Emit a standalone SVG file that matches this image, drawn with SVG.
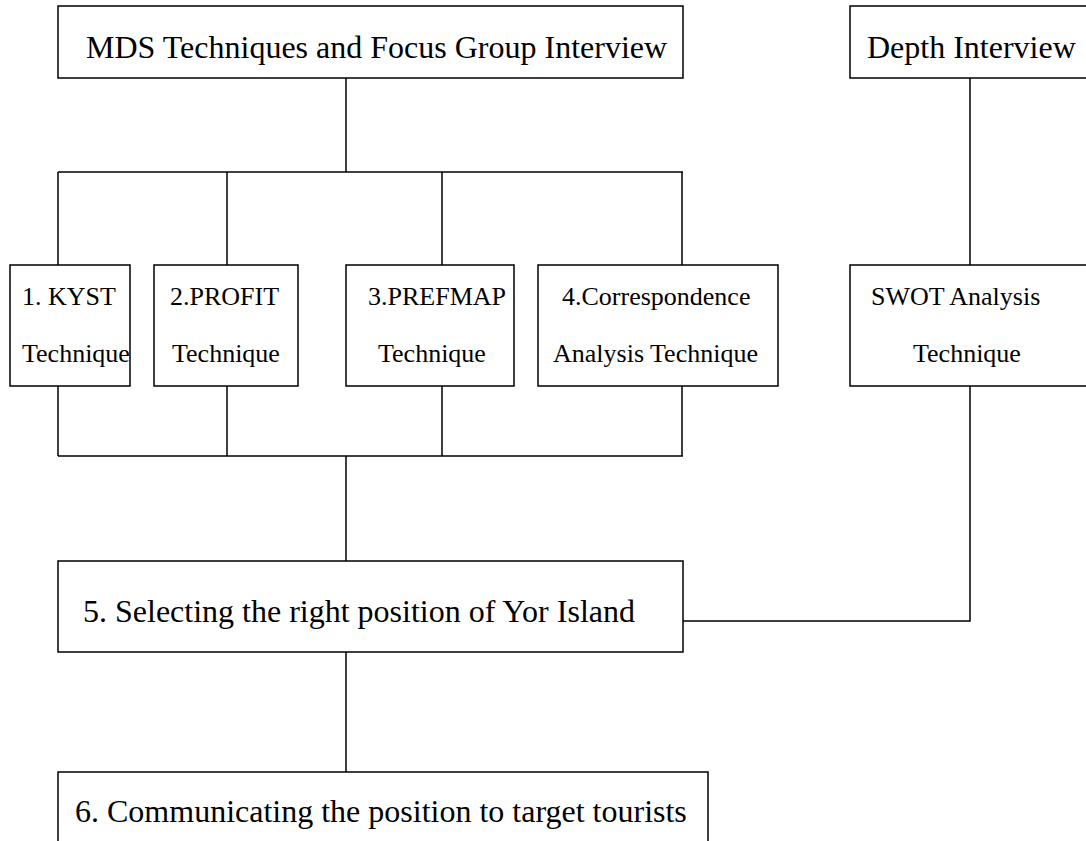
<svg xmlns="http://www.w3.org/2000/svg" width="1086" height="841" viewBox="0 0 1086 841">
  <style>
    .box { fill: #ffffff; stroke: #000000; stroke-width: 1.5; }
    .wire { fill: none; stroke: #000000; stroke-width: 1.5; }
    text { font-family: 'Liberation Serif', serif; fill: #000000; }
    .big { font-size: 32px; }
    .small { font-size: 26px; }
  </style>
  <rect x="0" y="0" width="1086" height="841" fill="#ffffff"/>

  <!-- connectors -->
  <g id="connectors" class="wire">
    <!-- MDS fan-out -->
    <path d="M346 78 V172"/>
    <path d="M58 172 H683"/>
    <path d="M58 172 V265 M227 172 V265 M442 172 V265 M682 172 V265"/>
    <!-- fan-in to step 5 -->
    <path d="M58 386 V456 M227 386 V456 M442 386 V456 M682 386 V456"/>
    <path d="M58 456 H683"/>
    <path d="M346 456 V561"/>
    <!-- depth interview branch -->
    <path d="M970 78 V265"/>
    <path d="M970 386 V621 H683"/>
    <!-- step 5 to step 6 -->
    <path d="M346 652 V772"/>
  </g>

  <g id="node-mds">
    <rect class="box" x="58" y="6" width="625" height="72"/>
    <text class="big" x="86" y="58">MDS Techniques and Focus Group Interview</text>
  </g>

  <g id="node-depth">
    <rect class="box" x="850" y="6" width="240" height="72"/>
    <text class="big" x="867" y="58">Depth Interview</text>
  </g>

  <g id="node-kyst">
    <rect class="box" x="10" y="265" width="120" height="121"/>
    <text class="small" x="22" y="305">1. KYST</text>
    <text class="small" x="22" y="362">Technique</text>
  </g>

  <g id="node-profit">
    <rect class="box" x="154" y="265" width="144" height="121"/>
    <text class="small" x="170" y="305">2.PROFIT</text>
    <text class="small" x="172" y="362">Technique</text>
  </g>

  <g id="node-prefmap">
    <rect class="box" x="346" y="265" width="168" height="121"/>
    <text class="small" x="368" y="305">3.PREFMAP</text>
    <text class="small" x="378" y="362">Technique</text>
  </g>

  <g id="node-correspondence">
    <rect class="box" x="538" y="265" width="240" height="121"/>
    <text class="small" x="562" y="305">4.Correspondence</text>
    <text class="small" x="553" y="362">Analysis Technique</text>
  </g>

  <g id="node-swot">
    <rect class="box" x="850" y="265" width="240" height="121"/>
    <text class="small" x="871" y="305">SWOT Analysis</text>
    <text class="small" x="913" y="362">Technique</text>
  </g>

  <g id="node-select">
    <rect class="box" x="58" y="561" width="625" height="91"/>
    <text class="big" x="83" y="622">5. Selecting the right position of Yor Island</text>
  </g>

  <g id="node-communicate">
    <rect class="box" x="58" y="772" width="650" height="90"/>
    <text class="big" x="75" y="822">6. Communicating the position to target tourists</text>
  </g>
</svg>
